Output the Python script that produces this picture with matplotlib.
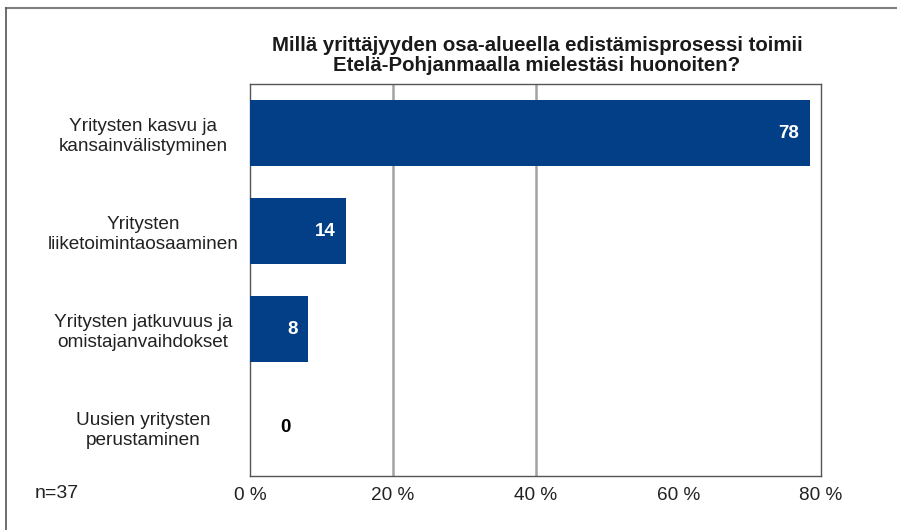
import numpy as np
import matplotlib
matplotlib.use('Agg')
import matplotlib.pyplot as plt
from matplotlib.lines import Line2D

plt.rcParams['font.family'] = ['Liberation Sans', 'DejaVu Sans']

title = "Millä yrittäjyyden osa-alueella edistämisprosessi toimii\nEtelä-Pohjanmaalla mielestäsi huonoiten?"
categories = [
    "Yritysten kasvu ja\nkansainvälistyminen",
    "Yritysten\nliiketoimintaosaaminen",
    "Yritysten jatkuvuus ja\nomistajanvaihdokset",
    "Uusien yritysten\nperustaminen",
]
values = [78.4, 13.5, 8.1, 0.0]   # percent of respondents
n_note = "n=37"
x_ticks = [0, 20, 40, 60, 80]
grid_at = [20, 40]

bar_colour = "#033f86"
text_colour = "#222222"

fig = plt.figure(figsize=(8.97, 5.30), dpi=100)
ax = fig.add_axes([250 / 897, 1 - 476 / 530, 571 / 897, 392 / 530])

y = np.arange(len(categories))
ax.barh(y, values, height=0.67, color=bar_colour, zorder=3)

for yi, v in zip(y, values):
    if v > 3:
        ax.text(v - 1.45, yi, f"{v:.0f}", ha="right", va="center",
                color="white", fontsize=13.5, fontweight="bold", zorder=4)
    else:
        ax.text(4.9, yi, f"{v:.0f}", ha="center", va="center",
                color="black", fontsize=13.5, fontweight="bold", zorder=4)

for g in grid_at:
    ax.axvline(g, color="#a3a3a3", linewidth=1.8, zorder=1)

ax.set_xlim(0, 80)
ax.set_ylim(len(categories) - 0.5, -0.5)
ax.set_xticks(x_ticks)
ax.set_xticklabels([f"{t} %" for t in x_ticks], fontsize=13.7, color=text_colour)
ax.set_yticks(y)
ax.set_yticklabels(categories, fontsize=13.7, color=text_colour, ha="center",
                   linespacing=1.2)
ax.tick_params(axis="y", length=0, pad=77)
ax.tick_params(axis="x", length=0, pad=8)
for s in ax.spines.values():
    s.set_color("#555555")
    s.set_linewidth(1.0)

fig.text(537 / 897, 1 - 55.5 / 530, title, ha="center", va="center",
         fontsize=14.7, fontweight="bold", linespacing=1.05, color="#1a1a1a")
fig.text(35 / 897, 1 - 493 / 530, n_note, ha="left", va="center",
         fontsize=14, color=text_colour)

# outer frame (top and left edges only)
fig.add_artist(Line2D([6 / 897, 1], [1 - 8 / 530, 1 - 8 / 530],
                      transform=fig.transFigure, color="#808080", linewidth=1.5))
fig.add_artist(Line2D([6 / 897, 6 / 897], [0, 1 - 8 / 530],
                      transform=fig.transFigure, color="#555555", linewidth=1.2))

fig.savefig("out.png", dpi=100)
